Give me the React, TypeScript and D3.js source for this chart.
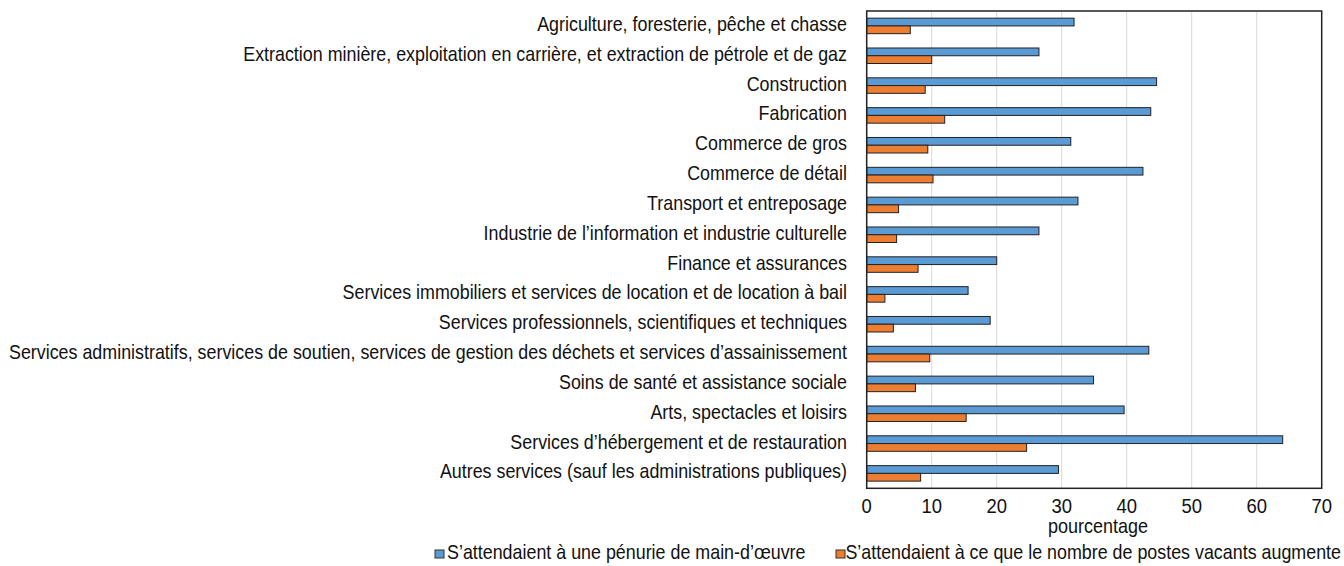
import React from "react";
import * as d3 from "d3";

const categories = [
  "Agriculture, foresterie, pêche et chasse",
  "Extraction minière, exploitation en carrière, et extraction de pétrole et de gaz",
  "Construction",
  "Fabrication",
  "Commerce de gros",
  "Commerce de détail",
  "Transport et entreposage",
  "Industrie de l’information et industrie culturelle",
  "Finance et assurances",
  "Services immobiliers et services de location et de location à bail",
  "Services professionnels, scientifiques et techniques",
  "Services administratifs, services de soutien, services de gestion des déchets et services d’assainissement",
  "Soins de santé et assistance sociale",
  "Arts, spectacles et loisirs",
  "Services d’hébergement et de restauration",
  "Autres services (sauf les administrations publiques)",
];

const penurie = [31.9, 26.5, 44.6, 43.7, 31.4, 42.5, 32.5, 26.5, 20.0, 15.6, 19.0, 43.4, 34.9, 39.6, 64.0, 29.5];
const postesVacants = [6.7, 10.0, 9.0, 12.0, 9.4, 10.2, 4.9, 4.6, 7.9, 2.8, 4.1, 9.7, 7.5, 15.3, 24.6, 8.3];

const seriesNames = [
  "S’attendaient à une pénurie de main-d’œuvre",
  "S’attendaient à ce que le nombre de postes vacants augmente",
];
const colors = ["#5B9BD5", "#ED7D31"];
const ticks = [0, 10, 20, 30, 40, 50, 60, 70];

// no condensed font installed, so squeeze Liberation Sans horizontally
const font = "'Liberation Sans', Arial, sans-serif";

function NarrowText({ x, y, sx = 0.894, anchor = "start", size = 20, children }: any) {
  return (
    <text
      transform={`translate(${x},${y}) scale(${sx},1)`}
      textAnchor={anchor}
      fontSize={size}
      fill="#111"
    >
      {children}
    </text>
  );
}

export default function App() {
  const width = 1344;
  const height = 566;
  const left = 866.7;
  const right = 1321.7;
  const top = 11;
  const bottom = 488.3;

  const x = d3.scaleLinear().domain([0, 70]).range([left, right]);
  const y = d3
    .scaleBand()
    .domain(categories)
    .range([top, bottom])
    .paddingInner(0.48)
    .paddingOuter(0.24);
  const sub = d3.scaleBand().domain(["0", "1"]).range([0, y.bandwidth()]);

  const rows = categories.map((c, i) => ({ c, vals: [penurie[i], postesVacants[i]] }));

  return (
    <svg
      width={width}
      height={height}
      style={{ position: "absolute", left: 0, top: 0, background: "#fff" }}
      fontFamily={font}
    >
      {/* grid */}
      {ticks.slice(1, -1).map(t => (
        <line key={t} x1={x(t)} x2={x(t)} y1={top} y2={bottom} stroke="#d9d9d9" strokeWidth={1} />
      ))}

      {/* bars */}
      {rows.map(r => (
        <g key={r.c} transform={`translate(0,${y(r.c)})`}>
          {r.vals.map((v, j) => (
            <rect
              key={j}
              x={x(0)}
              y={sub(String(j))}
              width={x(v) - x(0)}
              height={sub.bandwidth()}
              fill={colors[j]}
              stroke="#222"
              strokeWidth={1}
            />
          ))}
        </g>
      ))}

      {/* frame */}
      <rect x={left} y={top} width={right - left} height={bottom - top} fill="none" stroke="#222" strokeWidth={1.5} />

      {/* category labels */}
      {categories.map(c => (
        <NarrowText key={c} x={847} y={y(c) + y.bandwidth() / 2 + 5} anchor="end">
          {c}
        </NarrowText>
      ))}

      {/* x ticks */}
      {ticks.map(t => (
        <NarrowText key={t} x={x(t)} y={513} anchor="middle" sx={0.9} size={20.5}>
          {t}
        </NarrowText>
      ))}
      <NarrowText x={1098} y={533} anchor="middle" sx={0.9}>
        pourcentage
      </NarrowText>

      {/* legend */}
      <rect x={435} y={550} width={9} height={8} fill={colors[0]} stroke="#333" strokeWidth={1} />
      <NarrowText x={447} y={559}>
        {seriesNames[0]}
      </NarrowText>
      <rect x={836} y={550} width={9} height={8} fill={colors[1]} stroke="#333" strokeWidth={1} />
      <NarrowText x={1341} y={559} anchor="end">
        {seriesNames[1]}
      </NarrowText>
    </svg>
  );
}
